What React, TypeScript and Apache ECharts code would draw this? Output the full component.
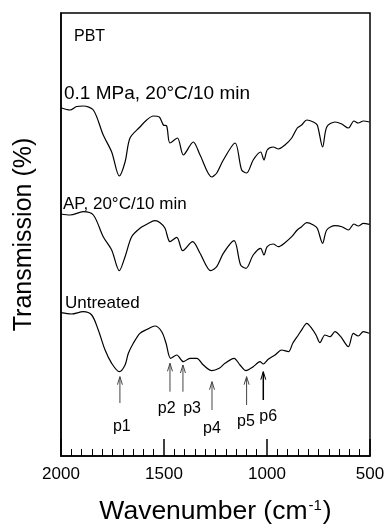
import React, { useEffect, useRef } from "react";
import * as echarts from "echarts";

// Wavenumber (cm-1), transmission (arbitrary offset units)
const topCurve: [number, number][] = [
  [2000, 348.3], [1956, 346], [1924, 349.5], [1892, 350], [1843, 346], [1795, 321], [1754, 304],
  [1717, 280], [1689, 294], [1665, 318], [1617, 329], [1584, 336], [1552, 340], [1523, 339],
  [1503, 331], [1487, 330], [1471, 313], [1435, 318], [1406, 301], [1358, 314], [1325, 301],
  [1268, 279], [1244, 283], [1212, 296], [1155, 313], [1123, 286], [1099, 283], [1067, 296],
  [1031, 304], [1015, 296], [999, 306], [970, 309], [945, 307], [913, 311], [880, 318],
  [853, 328], [832, 331], [807, 336], [775, 334], [756, 331], [730, 309], [710, 329],
  [670, 334], [637, 332], [605, 328], [578, 335], [557, 333], [532, 335], [503, 334],
];

const midCurve: [number, number][] = [
  [2000, 242], [1956, 241], [1892, 244.3], [1843, 241], [1795, 219.3], [1754, 206], [1717, 185.3],
  [1689, 199.3], [1657, 219.3], [1617, 227.7], [1581, 232], [1544, 235.3], [1519, 233.3],
  [1495, 227.7], [1471, 214.3], [1438, 218.7], [1409, 205.3], [1361, 214.3], [1325, 202.7],
  [1273, 185.3], [1244, 189.3], [1212, 202.7], [1160, 215.3], [1128, 191], [1102, 187.7],
  [1067, 201], [1031, 207.7], [1015, 201], [999, 209.3], [970, 212], [945, 209.3], [913, 213.3],
  [880, 219.3], [853, 226], [832, 229.3], [807, 233.3], [775, 231], [756, 227.7], [730, 212.7],
  [710, 226], [670, 230.3], [637, 229.3], [605, 226], [578, 232], [557, 230], [532, 232.7], [503, 231.7],
];

const untreatedCurve: [number, number][] = [
  [2000, 143.3], [1949, 142], [1892, 144.3], [1851, 141], [1819, 126], [1786, 106], [1754, 92.7],
  [1717, 84.3], [1689, 91], [1673, 102.7], [1649, 112.7], [1617, 122.7], [1581, 126.7],
  [1544, 130], [1511, 124.3], [1490, 112.7], [1468, 97.7], [1438, 101], [1406, 94.3],
  [1374, 97.7], [1341, 97.7], [1309, 91], [1268, 85.3], [1232, 87.7], [1204, 92.7],
  [1160, 97.7], [1131, 91], [1102, 85.3], [1067, 89.3], [1034, 94.3], [1018, 92],
  [994, 96.7], [961, 101], [929, 106], [896, 104.3], [875, 112.7], [848, 121], [827, 127.7],
  [807, 132.7], [783, 127.7], [762, 121], [743, 113.3], [719, 121], [694, 119.3], [670, 124.3],
  [642, 119.3], [605, 109.3], [581, 122.7], [557, 120], [532, 124.3], [503, 122.7],
];

// Peak arrows: [wavenumber, tail y, head y, label wavenumber, label y]
const peakNames = ["p1", "p2", "p3", "p4", "p5", "p6"];
const peakArrows: number[][] = [
  [1714, 53, 79.3, 1705, 31],
  [1471, 64.3, 92.7, 1487, 49],
  [1408, 64.3, 91, 1364, 49],
  [1267, 46, 74.3, 1267, 29],
  [1099, 51, 79.3, 1102, 36],
  [1018, 56, 84.3, 994, 41],
];

const seriesLabels = ["0.1 MPa, 20°C/10 min", "AP, 20°C/10 min", "Untreated"];
const xTicks = { min: 500, max: 2000, interval: 500 };

const FONT = '"Liberation Sans", Arial, Helvetica, sans-serif';

export default function App() {
  const ref = useRef<HTMLDivElement>(null);
  useEffect(() => {
    if (!ref.current) return;
    const chart = echarts.init(ref.current, null, { renderer: "svg" });
    const lineSeries = (data: [number, number][]) => ({
      type: "line",
      data,
      showSymbol: false,
      symbol: "none",
      smooth: 0.3,
      lineStyle: { color: "#000", width: 1.2 },
      silent: true,
    });
    chart.setOption({
      animation: false,
      grid: {
        left: 61, right: 14, top: 13, bottom: 69,
        outerBoundsMode: "none",
        containLabel: false,
        show: true, borderColor: "#000", borderWidth: 1.5, backgroundColor: "transparent",
      },
      xAxis: {
        type: "value",
        min: xTicks.min,
        max: xTicks.max,
        interval: xTicks.interval,
        inverse: true,
        name: "Wavenumber (cm{sup|-1})",
        nameLocation: "middle",
        nameGap: 41,
        nameTextStyle: {
          fontSize: 26.5, color: "#000", fontFamily: FONT, lineHeight: 26,
          rich: { sup: { fontSize: 15, color: "#000", fontFamily: FONT, verticalAlign: "top", lineHeight: 26, padding: [0, 1, 10, 1] } },
        },
        axisLine: { show: true, lineStyle: { color: "#000", width: 1.5 } },
        axisTick: { show: true, inside: true, length: 17, lineStyle: { color: "#000", width: 1.5 } },
        minorTick: { show: true, splitNumber: 10, length: 7, lineStyle: { color: "#000", width: 1 } },
        axisLabel: { fontSize: 17, color: "#000", fontFamily: FONT, margin: 9, formatter: (v: number) => String(v) },
        splitLine: { show: false },
        minorSplitLine: { show: false },
      },
      yAxis: {
        type: "value",
        min: 0,
        max: 443,
        name: "Transmission (%)",
        nameLocation: "middle",
        nameGap: 27,
        nameTextStyle: { fontSize: 25, color: "#000", fontFamily: FONT },
        axisLine: { show: true, lineStyle: { color: "#000", width: 1.5 } },
        axisTick: { show: false },
        axisLabel: { show: false },
        splitLine: { show: false },
      },
      graphic: [
        { type: "text", x: 74, y: 35, style: { text: "PBT", fill: "#000", font: `16px ${FONT}`, verticalAlign: "middle" } },
        { type: "text", x: 64, y: 92, style: { text: seriesLabels[0], fill: "#000", font: `19px ${FONT}`, verticalAlign: "middle" } },
        { type: "text", x: 63, y: 203, style: { text: seriesLabels[1], fill: "#000", font: `17px ${FONT}`, verticalAlign: "middle" } },
        { type: "text", x: 65, y: 302, style: { text: seriesLabels[2], fill: "#000", font: `17px ${FONT}`, verticalAlign: "middle" } },
      ],
      series: [
        lineSeries(topCurve),
        lineSeries(midCurve),
        lineSeries(untreatedCurve),
        {
          type: "custom",
          silent: true,
          data: peakArrows,
          renderItem: (params: any, api: any) => {
            const i = params.dataIndex;
            const wn = api.value(0);
            const t = api.coord([wn, api.value(1)]);
            const h = api.coord([wn, api.value(2)]);
            const l = api.coord([api.value(3), api.value(4)]);
            const stroke = i === 5 ? "#000" : "#444";
            return {
              type: "group",
              children: [
                { type: "line", shape: { x1: t[0], y1: t[1], x2: h[0], y2: h[1] }, style: { stroke, lineWidth: i === 5 ? 1.5 : 1 } },
                {
                  type: "polyline",
                  shape: { points: [[h[0] - 2.5, h[1] + 8], [h[0], h[1]], [h[0] + 2.5, h[1] + 8]] },
                  style: { stroke, fill: "none", lineWidth: 1 },
                },
                {
                  type: "text",
                  x: l[0],
                  y: l[1],
                  style: { text: peakNames[i], fill: "#000", font: `16px ${FONT}`, align: "center", verticalAlign: "middle" },
                },
              ],
            };
          },
        },
      ],
    });
    return () => chart.dispose();
  }, []);
  return <div ref={ref} style={{ position: "fixed", left: 0, top: 0, width: 384, height: 525 }} />;
}
